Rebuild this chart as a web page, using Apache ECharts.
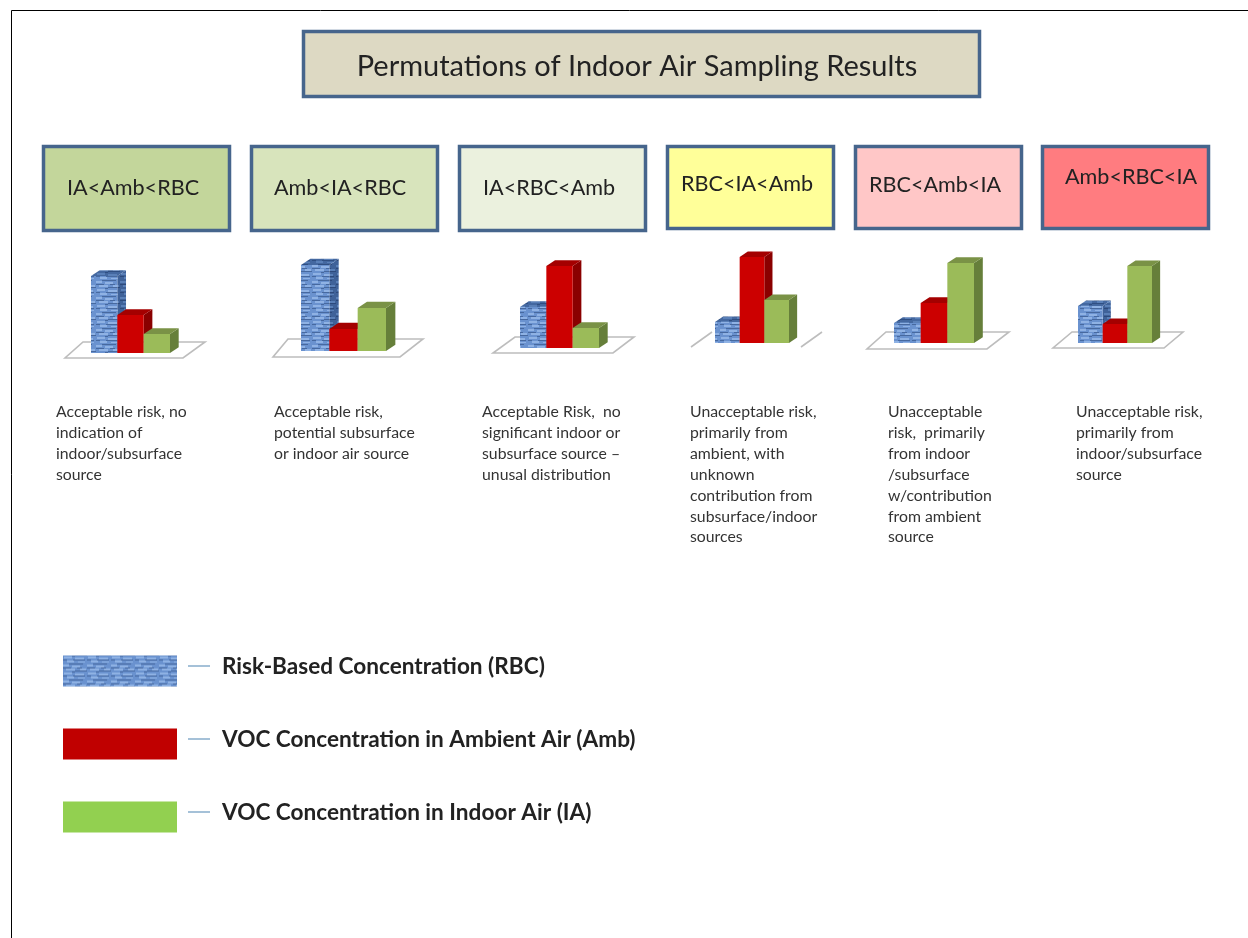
<!DOCTYPE html>
<html>
<head>
<meta charset="utf-8">
<style>html,body{margin:0;padding:0;background:#fff}#c{width:1248px;height:938px}</style>
<script src="https://cdn.jsdelivr.net/npm/echarts@6/dist/echarts.min.js"></script>
</head>
<body>
<div id="c"></div>
<script>
// ---- data ----
const categories = ['RBC', 'Amb', 'IA'];
const seriesNames = ['Risk-Based Concentration (RBC)', 'VOC Concentration in Ambient Air (Amb)', 'VOC Concentration in Indoor Air (IA)'];
const rbcValues = [77, 86, 41, 21, 20, 37];
const ambValues = [38, 22, 82, 86, 40, 19];
const iaValues  = [19, 43, 20, 43, 80, 77];
const mainTitle = 'Permutations of Indoor Air Sampling Results';
const panelTitles = ['IA<Amb<RBC', 'Amb<IA<RBC', 'IA<RBC<Amb', 'RBC<IA<Amb', 'RBC<Amb<IA', 'Amb<RBC<IA'];
const panelNotes = [
  ['Acceptable risk, no', 'indication of', 'indoor/subsurface', 'source'],
  ['Acceptable risk,', 'potential subsurface', 'or indoor air source'],
  ['Acceptable Risk,  no', 'significant indoor or', 'subsurface source \u2013', 'unusal distribution'],
  ['Unacceptable risk,', 'primarily from', 'ambient, with', 'unknown', 'contribution from', 'subsurface/indoor', 'sources'],
  ['Unacceptable', 'risk,  primarily', 'from indoor', '/subsurface', 'w/contribution', 'from ambient', 'source'],
  ['Unacceptable risk,', 'primarily from', 'indoor/subsurface', 'source']
];

// ---- layout and style ----
const font = 'Lato, sans-serif';
const border = '#46658c';
const boxLayout = [
  {x: 42, y: 145, w: 189, h: 87, fill: '#c3d69b', tx: 67, ty: 188},
  {x: 250, y: 145, w: 189, h: 87, fill: '#d8e4bc', tx: 274, ty: 188},
  {x: 458, y: 145, w: 189, h: 87, fill: '#ebf1de', tx: 483, ty: 188},
  {x: 666, y: 145, w: 169, h: 85, fill: '#ffff99', tx: 681, ty: 184},
  {x: 854, y: 145, w: 169, h: 85, fill: '#ffc7c7', tx: 869, ty: 185},
  {x: 1041, y: 145, w: 169, h: 85, fill: '#ff7c80', tx: 1065, ty: 177}
];
const gridLayout = [
  {left: 91, width: 79, base: 353},
  {left: 301, width: 85, base: 351},
  {left: 520, width: 79, base: 348},
  {left: 715, width: 74, base: 343},
  {left: 894, width: 80, base: 343},
  {left: 1078, width: 74, base: 343}
];
const floorLayout = [
  [[65,358],[183,358],[205,342],[83,342]],
  [[273,357],[400,357],[423,339],[288,339]],
  [[493,353],[613,353],[634,337],[515,337]],
  null,
  [[867,349],[987,349],[1009,332],[886,332]],
  [[1053,348],[1164,348],[1183,332],[1072,332]]
];
const noteX = [56, 274, 482, 690, 888, 1076];
const noteTop = 412.6;

function brickTile(base, light, dark) {
  const c = document.createElement('canvas');
  c.width = 24; c.height = 16;
  const g = c.getContext('2d');
  g.fillStyle = base; g.fillRect(0, 0, 24, 16);
  g.fillStyle = light;
  [[1,1,8,2],[12,2,9,2],[4,5,7,2],[15,6,7,1],[0,9,6,2],[9,10,8,2],[3,13,9,2],[17,13,6,2]].forEach(r => g.fillRect(...r));
  g.fillStyle = dark;
  [[0,4,4,1],[10,4,12,1],[6,8,14,1],[0,12,8,1],[14,12,5,1],[12,15,12,1],[9,0,3,1]].forEach(r => g.fillRect(...r));
  return {image: c, repeat: 'repeat'};
}
const faces = [
  {front: brickTile('#6a92cf', '#8fb2e4', '#47699f'), side: brickTile('#3f6299', '#5a80b8', '#2d4a7c'), top: brickTile('#4468a0', '#5a80b8', '#304f82')},
  {front: '#cc0000', side: '#8a0000', top: '#a40000'},
  {front: '#9bbb59', side: '#667f3a', top: '#7a9246'}
];
const legendColors = [faces[0].front, '#c00000', '#92d050'];

function bar3d(seriesIndex) {
  const face = faces[seriesIndex];
  return function (params, api) {
    const i = api.value(0);
    const top = api.coord([i, api.value(1)]);
    const base = api.coord([i, 0]);
    const w = api.size([1, 0])[0];
    const x0 = top[0] - w / 2, x1 = top[0] + w / 2;
    const dx = w * 0.33, dy = w * 0.22;
    return {
      type: 'group',
      children: [
        {type: 'polygon', shape: {points: [[x1, top[1]], [x1 + dx, top[1] - dy], [x1 + dx, base[1] - dy], [x1, base[1]]]}, style: {fill: face.side}},
        {type: 'polygon', shape: {points: [[x0, top[1]], [x0 + dx, top[1] - dy], [x1 + dx, top[1] - dy], [x1, top[1]]]}, style: {fill: face.top}},
        {type: 'rect', shape: {x: x0, y: top[1], width: w, height: base[1] - top[1]}, style: {fill: face.front}}
      ]
    };
  };
}

const graphics = [];
// page frame
graphics.push({type: 'polyline', silent: true, shape: {points: [[11.5, 938], [11.5, 10.5], [1248, 10.5]]}, style: {stroke: '#000', lineWidth: 1, fill: null}});
// main title box
graphics.push({type: 'rect', shape: {x: 303.5, y: 31.5, width: 676, height: 65}, style: {fill: '#ddd9c3', stroke: border, lineWidth: 3.5}});
// panel boxes
boxLayout.forEach((b, i) => {
  graphics.push({type: 'rect', shape: {x: b.x + 1.5, y: b.y + 1.5, width: b.w - 3, height: b.h - 3}, style: {fill: b.fill, stroke: border, lineWidth: 3.5}});
  graphics.push({type: 'text', x: b.tx, y: b.ty, style: {text: panelTitles[i], font: '21.6px ' + font, fill: '#222', textVerticalAlign: 'middle'}});
});
// floors
floorLayout.forEach(pts => {
  if (pts) graphics.push({type: 'polygon', shape: {points: pts}, style: {fill: '#fff', stroke: '#bdbdbd', lineWidth: 1.6}});
});
graphics.push({type: 'line', shape: {x1: 691, y1: 347, x2: 712, y2: 332}, style: {stroke: '#bdbdbd', lineWidth: 1.6}});
graphics.push({type: 'line', shape: {x1: 801, y1: 347, x2: 822, y2: 332}, style: {stroke: '#bdbdbd', lineWidth: 1.6}});
// notes
panelNotes.forEach((lines, i) => {
  lines.forEach((t, j) => {
    graphics.push({type: 'text', x: noteX[i], y: noteTop + j * 20.85, scaleX: 1.09, style: {text: t, font: '14.5px ' + font, fill: '#333', textVerticalAlign: 'middle'}});
  });
});
// legend connector dashes
[666, 739, 812].forEach(y => {
  graphics.push({type: 'line', shape: {x1: 188, y1: y, x2: 210, y2: y}, style: {stroke: '#7fa6c7', lineWidth: 1.4}});
});

const grids = [], xAxes = [], yAxes = [], series = [];
gridLayout.forEach((g, i) => {
  grids.push({left: g.left, width: g.width, top: g.base - 100, height: 100});
  xAxes.push({type: 'category', gridIndex: i, data: categories, show: false});
  yAxes.push({type: 'value', gridIndex: i, min: 0, max: 100, show: false});
  [rbcValues, ambValues, iaValues].forEach((vals, s) => {
    series.push({
      type: 'custom',
      name: seriesNames[s],
      xAxisIndex: i,
      yAxisIndex: i,
      coordinateSystem: 'cartesian2d',
      clip: false,
      silent: true,
      z: 2 + s,
      itemStyle: {color: legendColors[s]},
      encode: {x: 0, y: 1},
      data: [[s, vals[i]]],
      renderItem: bar3d(s)
    });
  });
});

const chart = echarts.init(document.getElementById('c'), null, {renderer: 'canvas', width: 1248, height: 938});
chart.setOption({
  animation: false,
  backgroundColor: '#fff',
  title: {
    text: mainTitle,
    left: 632, top: 47, textAlign: 'center',
    textStyle: {fontFamily: font, fontSize: 29, fontWeight: 'normal', color: '#222'}
  },
  legend: {
    orient: 'vertical',
    left: 63, top: 655, padding: 0,
    itemWidth: 114, itemHeight: 31, itemGap: 41.5,
    icon: 'rect',
    selectedMode: false,
    data: seriesNames,
    formatter: '{n|{name}}',
    textStyle: {
      rich: {n: {fontFamily: font, fontSize: 22.6, fontWeight: 'bold', color: '#222', padding: [0, 0, 9, 40]}}
    }
  },
  grid: grids,
  xAxis: xAxes,
  yAxis: yAxes,
  series: series,
  graphic: graphics
});
</script>
</body>
</html>
